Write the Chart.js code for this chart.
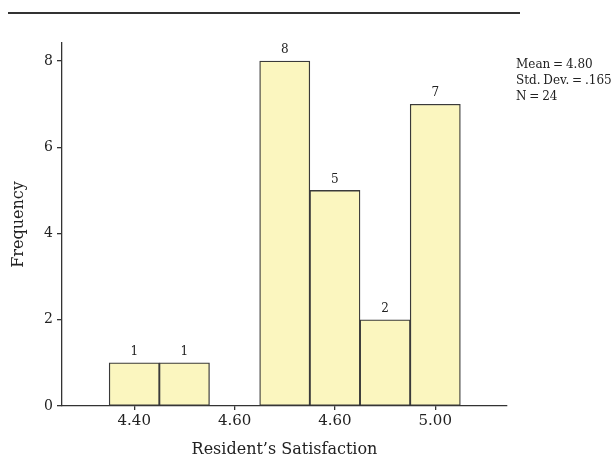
<!DOCTYPE html>
<html>
<head>
<meta charset="utf-8">
<script src="https://cdn.jsdelivr.net/npm/chart.js@4.4.0/dist/chart.umd.min.js"></script>
<style>
  body { margin: 0; background: #fff; }
  #wrap { position: relative; width: 616px; height: 458px; }
  #topRule { position: absolute; left: 8px; top: 12px; width: 512px; height: 2px; background: #333; }
  #stats { position: absolute; left: 516px; top: 56px; font: 12px "DejaVu Serif"; line-height: 16px; word-spacing: -1px; color: #222; white-space: nowrap; }
</style>
</head>
<body>
<div id="wrap">
  <canvas id="chartHist" width="616" height="458"></canvas>
  <div id="topRule"></div>
  <div id="stats">Mean = 4.80<br>Std. Dev. = .165<br>N = 24</div>
</div>
<script>
// histogram data
const binCenters = [4.40, 4.50, 4.60, 4.70, 4.80, 4.90, 5.00]
const counts = [1, 1, 0, 8, 5, 2, 7]
const xTickValues = [4.40, 4.60, 4.80, 5.00]
const xTickLabels = ['4.40', '4.60', '4.60', '5.00']
const yTickValues = [0, 2, 4, 6, 8]

const serif = 'DejaVu Serif'
const ink = '#333'

// numbers over the bars
const barLabels = {
   id: 'barLabels',
   afterDatasetsDraw(chart) {
      const ctx = chart.ctx
      const meta = chart.getDatasetMeta(0)
      ctx.save()
      ctx.font = '12px "' + serif + '"'
      ctx.fillStyle = '#222'
      ctx.textAlign = 'center'
      ctx.textBaseline = 'middle'
      meta.data.forEach((bar, i) => {
         if (!counts[i]) return
         ctx.fillText(String(counts[i]), bar.x, bar.y - 11)
      })
      ctx.restore()
   }
}

const ctx = document.getElementById('chartHist')
const histChart = new Chart(ctx, {
   type: 'bar',
   data: {
      datasets: [{
         data: binCenters.map((x, i) => ({ x: x, y: counts[i] || null })),
         backgroundColor: '#fbf6bf',
         borderColor: '#3a3a3a',
         borderWidth: 1.3,
         borderSkipped: false,
         barPercentage: 1,
         categoryPercentage: 1
      }]
   },
   options: {
      responsive: false,
      animation: false,
      layout: { padding: { top: 43, right: 109, left: 0, bottom: 0 } },
      plugins: { legend: { display: false }, tooltip: { enabled: false } },
      scales: {
         x: {
            type: 'linear',
            offset: false,
            bounds: 'data',
            min: 4.256,
            max: 5.143,
            afterFit: (s) => { s.height = 52 },
            afterBuildTicks: (s) => { s.ticks = xTickValues.map(v => ({ value: v })) },
            border: { display: true, color: ink, width: 1.3 },
            grid: { display: true, offset: false, drawOnChartArea: false, drawTicks: true, tickLength: 4, color: ink, lineWidth: 1.3 },
            ticks: {
               autoSkip: false,
               maxRotation: 0,
               padding: 2,
               color: '#222',
               font: { family: serif, size: 15 },
               callback: (v, i) => xTickLabels[i]
            },
            title: {
               display: true,
               text: 'Resident’s Satisfaction',
               color: '#222',
               font: { family: serif, size: 16, lineHeight: 1 },
               padding: { top: 4, bottom: 0 }
            }
         },
         y: {
            min: 0,
            max: 8.42,
            afterFit: (s) => { s.width = 62 },
            afterBuildTicks: (s) => { s.ticks = yTickValues.map(v => ({ value: v })) },
            border: { display: true, color: ink, width: 1.3 },
            grid: { display: true, drawOnChartArea: false, drawTicks: true, tickLength: 5, color: ink, lineWidth: 1.3 },
            ticks: {
               padding: 4,
               color: '#222',
               font: { family: serif, size: 14 }
            },
            title: {
               display: true,
               text: 'Frequency',
               color: '#222',
               font: { family: serif, size: 16 },
               padding: { top: 9, bottom: 0 }
            }
         }
      }
   },
   plugins: [barLabels]
})
</script>
</body>
</html>
